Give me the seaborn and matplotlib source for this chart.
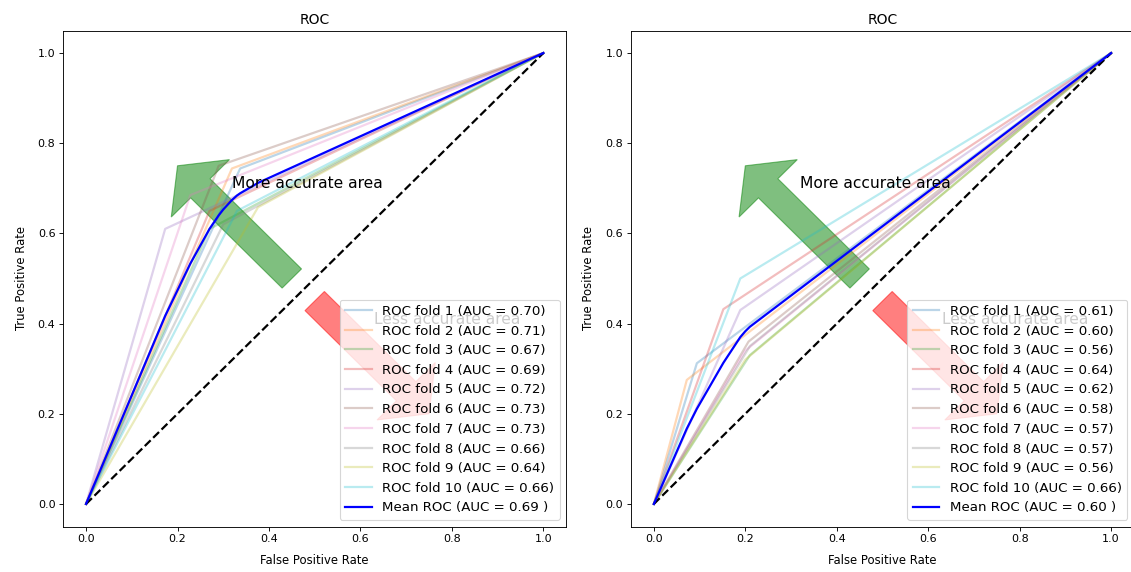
import matplotlib

matplotlib.use("Agg")
import matplotlib.pyplot as plt
import matplotlib.patches as patches
import seaborn as sns

# fold operating points (one threshold per fold)
left_fpr = [0.337, 0.319, 0.27, 0.27, 0.173, 0.29, 0.228, 0.30, 0.376, 0.33]
left_tpr = [0.744, 0.744, 0.61, 0.65, 0.61, 0.75, 0.685, 0.62, 0.658, 0.65]
left_auc = [0.70, 0.71, 0.67, 0.69, 0.72, 0.73, 0.73, 0.66, 0.64, 0.66]
left_mean_fpr = [0.0, 0.173, 0.228, 0.27, 0.29, 0.30, 0.319, 0.33, 0.337, 0.376, 1.0]
left_mean_tpr = [0.0, 0.417, 0.533, 0.610, 0.640, 0.653, 0.674, 0.684, 0.689, 0.712, 1.0]
left_mean_auc = 0.69

right_fpr = [0.094, 0.072, 0.21, 0.152, 0.189, 0.207, 0.20, 0.21, 0.20, 0.189]
right_tpr = [0.312, 0.275, 0.33, 0.432, 0.43, 0.36, 0.34, 0.35, 0.32, 0.50]
right_auc = [0.61, 0.60, 0.56, 0.64, 0.62, 0.58, 0.57, 0.57, 0.56, 0.66]
right_mean_fpr = [0.0, 0.072, 0.094, 0.152, 0.189, 0.20, 0.207, 0.21, 1.0]
right_mean_tpr = [0.0, 0.167, 0.211, 0.313, 0.370, 0.383, 0.390, 0.393, 1.0]
right_mean_auc = 0.60

W, H, DPI = 1131, 572, 80
fig = plt.figure(figsize=(W / DPI, H / DPI), dpi=DPI)
ax_left = fig.add_axes([63.2 / W, 45.5 / H, 503 / W, 496 / H])
ax_right = fig.add_axes([631 / W, 45.5 / H, 503 / W, 496 / H])

palette = sns.color_palette("tab10")


def draw_roc(ax, fpr, tpr, aucs, mean_fpr, mean_tpr, mean_auc):
    # arrows first so the curves sit on top of them
    ax.add_patch(patches.Arrow(0.45, 0.5, -0.25, 0.25, width=0.3, color="green", alpha=0.5))
    ax.add_patch(patches.Arrow(0.5, 0.45, 0.25, -0.25, width=0.3, color="red", alpha=0.5))

    for i, (f, t, a) in enumerate(zip(fpr, tpr, aucs)):
        sns.lineplot(
            x=[0.0, f, 1.0],
            y=[0.0, t, 1.0],
            ax=ax,
            sort=False,
            color=palette[i],
            lw=2,
            alpha=0.3,
            label="ROC fold %d (AUC = %0.2f)" % (i + 1, a),
        )

    sns.lineplot(x=[0, 1], y=[0, 1], ax=ax, sort=False, color="black", lw=2, linestyle="--")
    sns.lineplot(
        x=mean_fpr,
        y=mean_tpr,
        ax=ax,
        sort=False,
        color="blue",
        lw=2,
        label="Mean ROC (AUC = %0.2f )" % mean_auc,
    )

    ax.set_xlim(-0.05, 1.05)
    ax.set_ylim(-0.05, 1.05)
    ax.set_xlabel("False Positive Rate", fontsize=10.5, labelpad=9)
    ax.set_ylabel("True Positive Rate", fontsize=10.5, labelpad=9)
    ax.set_title("ROC", fontsize=12.5)
    ax.legend(loc="lower right", fontsize=12)
    ax.text(0.32, 0.7, "More accurate area", fontsize=14)
    ax.text(0.63, 0.4, "Less accurate area", fontsize=14)


draw_roc(ax_left, left_fpr, left_tpr, left_auc, left_mean_fpr, left_mean_tpr, left_mean_auc)
draw_roc(ax_right, right_fpr, right_tpr, right_auc, right_mean_fpr, right_mean_tpr, right_mean_auc)

fig.savefig("out.png", dpi=DPI)
plt.close(fig)
